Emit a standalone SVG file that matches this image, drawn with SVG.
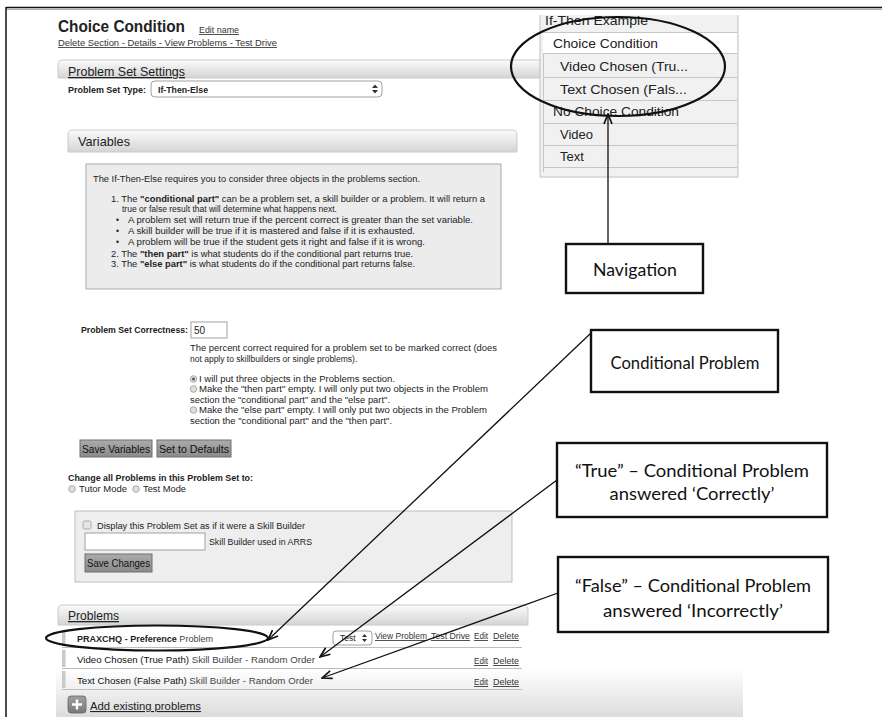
<svg xmlns="http://www.w3.org/2000/svg" width="882" height="717" viewBox="0 0 882 717">
<defs>
  <linearGradient id="gHead" x1="0" y1="0" x2="0" y2="1">
    <stop offset="0" stop-color="#fbfbfb"/><stop offset="1" stop-color="#d4d4d4"/>
  </linearGradient>
  <linearGradient id="gBtn" x1="0" y1="0" x2="0" y2="1">
    <stop offset="0" stop-color="#ababab"/><stop offset="1" stop-color="#8a8a8a"/>
  </linearGradient>
  <linearGradient id="gEdge" x1="0" y1="0" x2="0" y2="1">
    <stop offset="0" stop-color="#c4c4c4"/><stop offset="1" stop-color="#ffffff"/>
  </linearGradient>
  <linearGradient id="gFoot" x1="0" y1="0" x2="0" y2="1">
    <stop offset="0" stop-color="#ffffff"/><stop offset="1" stop-color="#dcdcdc"/>
  </linearGradient>
  <linearGradient id="gIcon" x1="0" y1="0" x2="0" y2="1">
    <stop offset="0" stop-color="#a0a0a0"/><stop offset="1" stop-color="#7a7a7a"/>
  </linearGradient>
  <clipPath id="navClip">
    <rect x="530" y="15" width="220" height="170"/>
  </clipPath>
  <marker id="arrow" viewBox="0 0 12 10" refX="11" refY="5" markerWidth="12" markerHeight="10" markerUnits="userSpaceOnUse" orient="auto">
    <path d="M1,1 L11,5 L1,9" fill="none" stroke="#111" stroke-width="1.7"/>
  </marker>
</defs>
<style>
  .t { font-family: "Liberation Sans", Arial, sans-serif; fill: #222; }
  .s8 { font-size: 8.5px; }
  .s9 { font-size: 9px; }
  .bd { font-weight: bold; }
  .u { text-decoration: underline; }
  .lnk { fill: #333; }
  .head { fill: url(#gHead); stroke: #cacaca; stroke-width: 1; }
  .edge { stroke: url(#gEdge); stroke-width: 1.2; fill: none; }
  .btn { fill: url(#gBtn); stroke: #6f6f6f; stroke-width: 1; }
  .btxt { font-family: "Liberation Sans", Arial, sans-serif; font-size: 10.5px; fill: #111; }
  .field { fill: #fff; stroke: #a0a0a0; stroke-width: 1; }
  .radio { fill: #dedede; stroke: #9a9a9a; stroke-width: 0.8; }
  .row { stroke: #bdbdbd; stroke-width: 1; }
  .grip { fill: #c9c9c9; }
  .nav { font-family: "Liberation Sans", Arial, sans-serif; font-size: 13px; fill: #222; }
  .navsep { stroke: #c6c6c6; stroke-width: 1; }
  .box { fill: #fff; stroke: #111; stroke-width: 2.4; }
  .ctext { font-family: Lato, "Open Sans", "Liberation Sans", sans-serif; font-size: 18px; fill: #111; text-anchor: middle; }
  .ring { fill: none; stroke: #111; stroke-width: 2.2; }
  .conn { fill: none; stroke: #111; stroke-width: 1.3; marker-end: url(#arrow); }
</style>

<rect width="882" height="717" fill="#fff"/>

<!-- page frame -->
<g id="frame">
  <line x1="6" y1="7.5" x2="882" y2="7.5" stroke="#111" stroke-width="1.5"/>
  <line x1="6" y1="9.3" x2="882" y2="9.3" stroke="#9a9a9a" stroke-width="1"/>
  <line x1="6" y1="7" x2="6" y2="717" stroke="#111" stroke-width="1.5"/>
</g>

<!-- page title and section links -->
<g id="page-header">
  <text class="t bd" x="58" y="32" font-size="16" textLength="127" lengthAdjust="spacingAndGlyphs" fill="#111">Choice Condition</text>
  <text class="t s8 u lnk" x="199" y="33" textLength="40" lengthAdjust="spacingAndGlyphs">Edit name</text>
  <text class="t s8 u lnk" x="58" y="46" textLength="219" lengthAdjust="spacingAndGlyphs">Delete Section<tspan text-decoration="none"> - </tspan>Details<tspan text-decoration="none"> - </tspan>View Problems<tspan text-decoration="none"> - </tspan>Test Drive</text>
</g>

<!-- problem set settings panel -->
<g id="problem-set-settings">
  <path class="head" d="M58,78 V65 Q58,60 63,60 H540 V78 Z"/>
  <line class="edge" x1="58.5" y1="78" x2="58.5" y2="104"/>
  <text class="t u" x="68" y="76" font-size="13" fill="#333" textLength="117" lengthAdjust="spacingAndGlyphs">Problem Set Settings</text>
  <text class="t s8 bd" x="68" y="93" textLength="78" lengthAdjust="spacingAndGlyphs">Problem Set Type:</text>
  <rect class="field" x="151" y="81" width="231" height="16" rx="4"/>
  <text class="t s9 bd" x="158" y="93" textLength="50" lengthAdjust="spacingAndGlyphs">If-Then-Else</text>
  <path d="M372,88 l3,-3.5 l3,3.5 Z M372,90 l3,3.5 l3,-3.5 Z" fill="#333"/>
</g>

<!-- variables panel -->
<g id="variables">
  <path class="head" d="M68,152 V135 Q68,130 73,130 H512 Q517,130 517,135 V152 Z"/>
  <line class="edge" x1="68.5" y1="152" x2="68.5" y2="180"/>
  <text class="t" x="78" y="146" font-size="13" fill="#333" textLength="52" lengthAdjust="spacingAndGlyphs">Variables</text>
  <rect x="86" y="164" width="415" height="125" fill="#ececec" stroke="#a9a9a9" stroke-width="1"/>
  <text class="t s8" x="93" y="182" textLength="327" lengthAdjust="spacingAndGlyphs">The If-Then-Else requires you to consider three objects in the problems section.</text>
  <text class="t s8" x="111" y="202" textLength="374" lengthAdjust="spacingAndGlyphs">1. The <tspan class="bd">"conditional part"</tspan> can be a problem set, a skill builder or a problem. It will return a</text>
  <text class="t s8" x="122" y="212">true or false result that will determine what happens next.</text>
  <text class="t s8" x="116" y="223">•</text>
  <text class="t s8" x="128" y="223" textLength="345" lengthAdjust="spacingAndGlyphs">A problem set will return true if the percent correct is greater than the set variable.</text>
  <text class="t s8" x="116" y="234">•</text>
  <text class="t s8" x="128" y="234" textLength="287" lengthAdjust="spacingAndGlyphs">A skill builder will be true if it is mastered and false if it is exhausted.</text>
  <text class="t s8" x="116" y="245">•</text>
  <text class="t s8" x="128" y="245" textLength="297" lengthAdjust="spacingAndGlyphs">A problem will be true if the student gets it right and false if it is wrong.</text>
  <text class="t s8" x="111" y="257" textLength="302" lengthAdjust="spacingAndGlyphs">2. The <tspan class="bd">"then part"</tspan> is what students do if the conditional part returns true.</text>
  <text class="t s8" x="111" y="267" textLength="304" lengthAdjust="spacingAndGlyphs">3. The <tspan class="bd">"else part"</tspan> is what students do if the conditional part returns false.</text>
</g>

<!-- correctness setting -->
<g id="correctness">
  <text class="t s8 bd" x="81" y="333" textLength="107" lengthAdjust="spacingAndGlyphs">Problem Set Correctness:</text>
  <rect class="field" x="191" y="322" width="36" height="16"/>
  <text class="t" x="194" y="334" font-size="10">50</text>
  <text class="t s8" x="190" y="351" fill="#333" textLength="307" lengthAdjust="spacingAndGlyphs">The percent correct required for a problem set to be marked correct (does</text>
  <text class="t s8" x="190" y="362" fill="#333">not apply to skillbuilders or single problems).</text>
  <circle class="radio" cx="193.5" cy="379" r="3.3"/>
  <circle cx="193.5" cy="379" r="1.5" fill="#555"/>
  <text class="t s8" x="199" y="382" textLength="196" lengthAdjust="spacingAndGlyphs">I will put three objects in the Problems section.</text>
  <circle class="radio" cx="193.5" cy="389" r="3.3"/>
  <text class="t s8" x="199" y="392" textLength="289" lengthAdjust="spacingAndGlyphs">Make the "then part" empty. I will only put two objects in the Problem</text>
  <text class="t s8" x="190" y="403" textLength="200" lengthAdjust="spacingAndGlyphs">section the "conditional part" and the "else part".</text>
  <circle class="radio" cx="193.5" cy="410" r="3.3"/>
  <text class="t s8" x="199" y="413" textLength="288" lengthAdjust="spacingAndGlyphs">Make the "else part" empty. I will only put two objects in the Problem</text>
  <text class="t s8" x="190" y="424" textLength="202" lengthAdjust="spacingAndGlyphs">section the "conditional part" and the "then part".</text>
  <rect class="btn" x="80" y="440" width="72" height="17"/>
  <text class="btxt" x="82" y="453" textLength="68" lengthAdjust="spacingAndGlyphs">Save Variables</text>
  <rect class="btn" x="157" y="440" width="74" height="17"/>
  <text class="btxt" x="159" y="453" textLength="70" lengthAdjust="spacingAndGlyphs">Set to Defaults</text>
</g>

<!-- mode switch -->
<g id="mode">
  <text class="t s8 bd" x="68" y="481" textLength="185" lengthAdjust="spacingAndGlyphs">Change all Problems in this Problem Set to:</text>
  <circle class="radio" cx="72" cy="489" r="3.3"/>
  <text class="t s8" x="79" y="492" textLength="48" lengthAdjust="spacingAndGlyphs">Tutor Mode</text>
  <circle class="radio" cx="136" cy="489" r="3.3"/>
  <text class="t s8" x="143" y="492" textLength="43" lengthAdjust="spacingAndGlyphs">Test Mode</text>
</g>

<!-- skill builder options -->
<g id="skill-builder">
  <rect x="75" y="511" width="437" height="71" fill="#eeeeee" stroke="#bdbdbd" stroke-width="1"/>
  <rect x="83" y="521" width="8" height="8" rx="1.5" fill="#e6e6e6" stroke="#9a9a9a" stroke-width="0.8"/>
  <text class="t s8" x="97" y="529" textLength="208" lengthAdjust="spacingAndGlyphs">Display this Problem Set as if it were a Skill Builder</text>
  <rect class="field" x="85" y="533" width="120" height="17"/>
  <text class="t s8" x="209" y="545" textLength="103" lengthAdjust="spacingAndGlyphs">Skill Builder used in ARRS</text>
  <rect class="btn" x="85" y="554" width="67" height="18"/>
  <text class="btxt" x="87" y="567" textLength="63" lengthAdjust="spacingAndGlyphs">Save Changes</text>
</g>

<!-- problems list -->
<g id="problems">
  <rect x="56" y="668" width="687" height="49" fill="url(#gFoot)"/>
  <path class="head" d="M58,625 V610 Q58,605 63,605 H523 Q528,605 528,610 V625 Z"/>
  <line class="edge" x1="58.5" y1="625" x2="58.5" y2="692"/>
  <text class="t u" x="68" y="620" font-size="13" fill="#333" textLength="51" lengthAdjust="spacingAndGlyphs">Problems</text>

  <rect class="grip" x="62" y="630" width="3.5" height="16"/>
  <line class="row" x1="62" y1="647.5" x2="522" y2="647.5"/>
  <text class="t s9" x="77" y="642" textLength="136" lengthAdjust="spacingAndGlyphs"><tspan font-weight="bold" fill="#222">PRAXCHQ - Preference</tspan> <tspan fill="#444">Problem</tspan></text>
  <rect class="field" x="333" y="631" width="39" height="14" rx="3"/>
  <text class="t s8" x="340" y="641">Test</text>
  <path d="M362,637 l2.5,-3 l2.5,3 Z M362,639 l2.5,3 l2.5,-3 Z" fill="#333"/>
  <text class="t s8 u lnk" x="375" y="639" textLength="52" lengthAdjust="spacingAndGlyphs">View Problem</text>
  <text class="t s8 u lnk" x="431" y="639" textLength="39" lengthAdjust="spacingAndGlyphs">Test Drive</text>
  <text class="t s8 u lnk" x="474" y="639" textLength="14" lengthAdjust="spacingAndGlyphs">Edit</text>
  <text class="t s8 u lnk" x="493" y="639" textLength="26" lengthAdjust="spacingAndGlyphs">Delete</text>

  <rect class="grip" x="62" y="650" width="3.5" height="17"/>
  <line class="row" x1="62" y1="668.5" x2="522" y2="668.5"/>
  <text class="t s9" x="77" y="663" textLength="238" lengthAdjust="spacingAndGlyphs"><tspan fill="#111">Video Chosen (True Path)</tspan> <tspan fill="#444">Skill Builder - Random Order</tspan></text>
  <text class="t s8 u lnk" x="474" y="664" textLength="14" lengthAdjust="spacingAndGlyphs">Edit</text>
  <text class="t s8 u lnk" x="493" y="664" textLength="26" lengthAdjust="spacingAndGlyphs">Delete</text>

  <rect class="grip" x="62" y="671" width="3.5" height="17"/>
  <line class="row" x1="62" y1="689.5" x2="522" y2="689.5"/>
  <text class="t s9" x="77" y="684" textLength="236" lengthAdjust="spacingAndGlyphs"><tspan fill="#111">Text Chosen (False Path)</tspan> <tspan fill="#444">Skill Builder - Random Order</tspan></text>
  <text class="t s8 u lnk" x="474" y="685" textLength="14" lengthAdjust="spacingAndGlyphs">Edit</text>
  <text class="t s8 u lnk" x="493" y="685" textLength="26" lengthAdjust="spacingAndGlyphs">Delete</text>

  <rect x="68" y="696" width="18" height="17" rx="3" fill="url(#gIcon)" stroke="#666" stroke-width="0.8"/>
  <path d="M77,699.5 V709.5 M72,704.5 H82" stroke="#fff" stroke-width="2.4"/>
  <text class="t u" x="90" y="710" font-size="11" fill="#333" textLength="111" lengthAdjust="spacingAndGlyphs">Add existing problems</text>
</g>

<!-- navigation tree (top row partly scrolled out of view) -->
<g id="nav-tree" clip-path="url(#navClip)">
  <rect x="540" y="10" width="198" height="167" fill="#f1f1f1" stroke="#c2c2c2" stroke-width="1"/>
  <rect x="543" y="32.5" width="194" height="20.5" fill="#ffffff"/>
  <line class="navsep" x1="543" y1="32.5" x2="737" y2="32.5"/>
  <line class="navsep" x1="543" y1="53.5" x2="737" y2="53.5"/>
  <line class="navsep" x1="543" y1="77.5" x2="737" y2="77.5"/>
  <line class="navsep" x1="543" y1="100.5" x2="737" y2="100.5"/>
  <line class="navsep" x1="543" y1="123.5" x2="737" y2="123.5"/>
  <line class="navsep" x1="543" y1="145.5" x2="737" y2="145.5"/>
  <line class="navsep" x1="543" y1="167.5" x2="737" y2="167.5"/>
  <line class="navsep" x1="543.5" y1="53" x2="543.5" y2="172"/>
  <text class="nav" x="545" y="25" textLength="103" lengthAdjust="spacingAndGlyphs">If-Then Example</text>
  <text class="nav" x="553" y="48" textLength="105" lengthAdjust="spacingAndGlyphs">Choice Condition</text>
  <text class="nav" x="560" y="71" textLength="128" lengthAdjust="spacingAndGlyphs">Video Chosen (Tru...</text>
  <text class="nav" x="560" y="94" textLength="127" lengthAdjust="spacingAndGlyphs">Text Chosen (Fals...</text>
  <text class="nav" x="553" y="116" textLength="126" lengthAdjust="spacingAndGlyphs">No Choice Condition</text>
  <text class="nav" x="560" y="139">Video</text>
  <text class="nav" x="560" y="161">Text</text>
</g>

<!-- hand-drawn highlight rings -->
<g id="ring-nav">
  <ellipse class="ring" cx="618" cy="66.5" rx="107" ry="49.5"/>
</g>
<g id="ring-problem">
  <ellipse class="ring" cx="157" cy="638" rx="111" ry="12.5" stroke-width="1.8"/>
</g>

<!-- callout boxes -->
<g id="callout-navigation">
  <rect class="box" x="566" y="244" width="137" height="49"/>
  <text class="ctext" x="635" y="276" textLength="84" lengthAdjust="spacingAndGlyphs">Navigation</text>
</g>
<g id="callout-conditional">
  <rect class="box" x="591" y="330" width="187" height="62"/>
  <text class="ctext" x="685" y="369" textLength="149" lengthAdjust="spacingAndGlyphs">Conditional Problem</text>
</g>
<g id="callout-true">
  <rect class="box" x="557" y="443" width="270" height="74"/>
  <text class="ctext" x="692" y="477" textLength="234" lengthAdjust="spacingAndGlyphs">“True” – Conditional Problem</text>
  <text class="ctext" x="692" y="500" textLength="165" lengthAdjust="spacingAndGlyphs">answered ‘Correctly’</text>
</g>
<g id="callout-false">
  <rect class="box" x="558" y="557" width="270" height="75"/>
  <text class="ctext" x="693" y="592" textLength="236" lengthAdjust="spacingAndGlyphs">“False” – Conditional Problem</text>
  <text class="ctext" x="693" y="617" textLength="180" lengthAdjust="spacingAndGlyphs">answered ‘Incorrectly’</text>
</g>

<!-- connectors -->
<g id="connectors">
  <path class="conn" d="M608,244 L608,114"/>
  <path class="conn" d="M591,333 L268,640"/>
  <path class="conn" d="M557,480 L320,657"/>
  <path class="conn" d="M558,593 L322,678"/>
</g>
</svg>
